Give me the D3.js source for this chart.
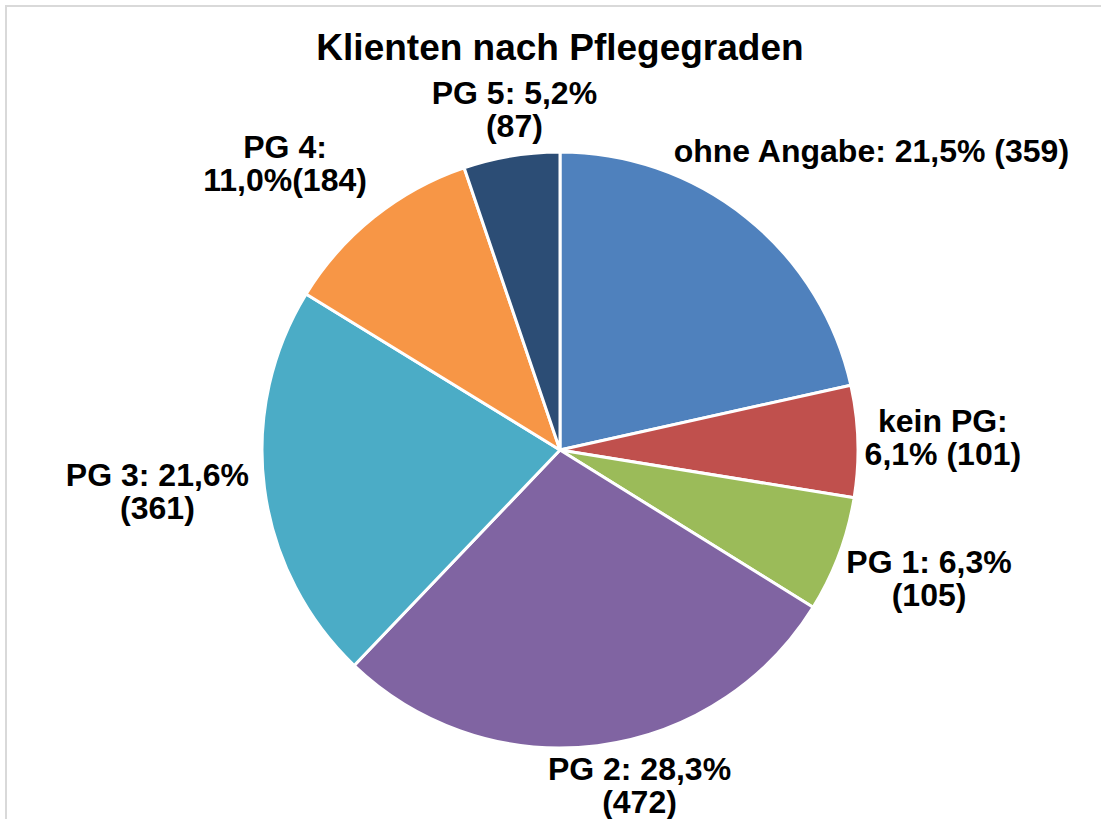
<!DOCTYPE html>
<html>
<head>
<meta charset="utf-8">
<script src="https://cdn.jsdelivr.net/npm/d3@7"></script>
<style>
  html, body { margin: 0; padding: 0; background: #ffffff; }
  svg { display: block; }
  text { font-family: "Liberation Sans", Arial, sans-serif; font-weight: bold; fill: #000000; }
</style>
</head>
<body>
<svg id="chart" width="1101" height="819"></svg>
<script>
// ---- data ----
const categories = ["ohne Angabe", "kein PG", "PG 1", "PG 2", "PG 3", "PG 4", "PG 5"];
const counts = [359, 101, 105, 472, 361, 184, 87];
const colors = ["#4F81BD", "#C0504D", "#9BBB59", "#8064A2", "#4BACC6", "#F79646", "#2C4D75"];
// label line templates: {n}=name, {p}=percent, {v}=count
const labelTemplates = [
  ["{n}: {p} ({v})"],
  ["{n}:", "{p} ({v})"],
  ["{n}: {p}", "({v})"],
  ["{n}: {p}", "({v})"],
  ["{n}: {p}", "({v})"],
  ["{n}:", "{p}({v})"],
  ["{n}: {p}", "({v})"]
];
// label offsets from the rim point at each slice's mid-angle (layout)
const labelOffsets = [[125, -55], [85, -9], [90, 18], [42, 34], [-107, -2], [-89, -59], [3, -52]];

// ---- layout ----
const W = 1101, H = 819;
const cx = 560, cy = 450, R = 298;
const svg = d3.select("#chart");

svg.append("rect")
  .attr("x", 6).attr("y", 6)
  .attr("width", W + 10).attr("height", H + 10)
  .attr("fill", "none").attr("stroke", "#d9d9d9").attr("stroke-width", 2);

svg.append("text")
  .attr("x", cx).attr("y", 60)
  .attr("text-anchor", "middle")
  .style("font-size", "37px")
  .text("Klienten nach Pflegegraden");

const total = d3.sum(counts);
const data = categories.map((c, i) => ({ name: c, value: counts[i], color: colors[i], i }));

const pie = d3.pie().value(d => d.value).sort(null);
const arcs = pie(data);
const arc = d3.arc().innerRadius(0).outerRadius(R);

const g = svg.append("g").attr("transform", `translate(${cx},${cy})`);
g.selectAll("path").data(arcs).join("path")
  .attr("d", arc)
  .attr("fill", d => d.data.color)
  .attr("stroke", "#ffffff")
  .attr("stroke-width", 3)
  .attr("stroke-linejoin", "round");

const fmtPct = v => d3.format(".1f")(v * 100).replace(".", ",") + "%";
const lineH = 33;
arcs.forEach(a => {
  const mid = (a.startAngle + a.endAngle) / 2;
  const rx = cx + R * Math.sin(mid);
  const ry = cy - R * Math.cos(mid);
  const off = labelOffsets[a.data.i];
  const lx = rx + off[0], ly = ry + off[1];
  const lines = labelTemplates[a.data.i].map(t =>
    t.replace("{n}", a.data.name).replace("{p}", fmtPct(a.data.value / total)).replace("{v}", a.data.value));
  const t = svg.append("text")
    .attr("text-anchor", "middle")
    .style("font-size", "32px");
  lines.forEach((l, k) => {
    t.append("tspan").attr("x", lx).attr("y", ly + k * lineH).text(l);
  });
});
</script>
</body>
</html>
